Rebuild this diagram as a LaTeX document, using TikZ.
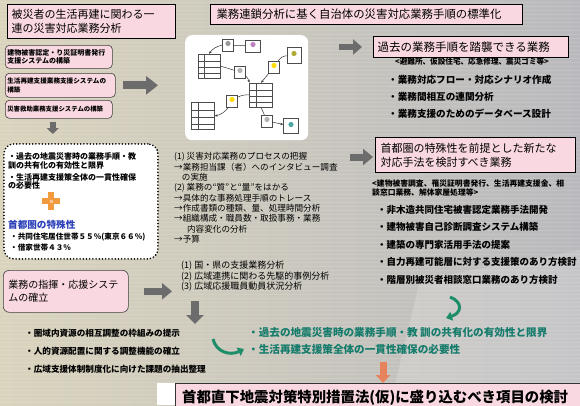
\documentclass[tikz,border=0pt]{standalone}
\usepackage{fontspec}
\setmainfont{Noto Sans CJK JP}
\usetikzlibrary{arrows.meta,calc}
\definecolor{boxpink}{HTML}{F9D8E1}
\definecolor{bgleft}{HTML}{DAD4BD}
\definecolor{bgright}{HTML}{B9B9BD}
\definecolor{arrowgray}{HTML}{6C6C6C}
\definecolor{goalteal}{HTML}{157C6C}
\definecolor{curvegreen}{HTML}{1E8E6A}
\definecolor{plusorange}{HTML}{F29A3E}
\definecolor{downorange}{HTML}{E6835C}
\definecolor{metroblue}{HTML}{2B40B8}

\begin{document}
\begin{tikzpicture}[x=1pt,y=-1pt,
  icon/.style={draw=black!70, fill=white, line width=0.4pt, minimum width=11, minimum height=12, inner sep=0pt,
    path picture={\fill[#1] ($(path picture bounding box.center)+(0,-1.5)$) circle (2.6pt);}},
  tbl/.style={draw=black!70, fill=white, line width=0.4pt, minimum width=22, minimum height=24, inner sep=0pt,
    path picture={\foreach \k in {0.3,0.55,0.8}{\draw[line width=0.3pt] ($(path picture bounding box.north west)!\k!(path picture bounding box.south west)$) -- ($(path picture bounding box.north east)!\k!(path picture bounding box.south east)$);}
      \draw[line width=0.3pt] ($(path picture bounding box.north west)!0.3!(path picture bounding box.north east)$) -- ($(path picture bounding box.south west)!0.3!(path picture bounding box.south east)$);}}]
    \tikzstyle{headbox}=[draw=black, line width=1pt, fill=boxpink, anchor=north west, inner xsep=4pt, inner ysep=0pt, align=left]
    \tikzstyle{sysbox}=[draw=black!75, line width=0.6pt, rounded corners=4pt, fill=boxpink, anchor=north west, inner xsep=2pt, inner ysep=0pt, align=left]
    \tikzstyle{note}=[anchor=north west, inner sep=0pt, align=left]
    \tikzstyle{grayarrow}=[line width=7pt, arrowgray, -{Triangle[length=10pt,width=16pt]}]
    \tikzstyle{greenarrow}=[line width=3pt, curvegreen, -{Triangle[length=6pt,width=9pt]}]
    \tikzstyle{netedge}=[line width=0.5pt, black!80]
    \useasboundingbox (0,0) rectangle (580,405);
    % background
    \shade[left color=bgleft, right color=bgright] (0,0) rectangle (580,405);
    \fill[white, opacity=0.18] (420,280) -- (580,250) -- (580,405) -- (390,405) -- cycle;
    \foreach \yy in {2,6,...,402}
        \draw[white, opacity=0.12, line width=0.6pt] (0,\yy) -- (580,\yy);
    % headings
    \node[headbox, minimum width=168, minimum height=34, text width=160, font=\fontsize{11}{14}\selectfont] (title) at (7,4) {被災者の生活再建に関わる一\\連の災害対応業務分析};
    \node[headbox, minimum width=312, minimum height=20, text width=300, inner xsep=6pt, font=\fontsize{11.4}{13}\selectfont] (banner) at (210,4) {業務連鎖分析に基く自治体の災害対応業務手順の標準化};
    % support systems
    \node[sysbox, minimum width=107, minimum height=23, text width=103, font=\bfseries\fontsize{7}{8.5}\selectfont] (sys1) at (5,45) {建物被害認定・り災証明書発行\\支援システムの構築};
    \node[sysbox, minimum width=110, minimum height=24, text width=106, font=\bfseries\fontsize{6.6}{8.5}\selectfont] (sys2) at (5,73) {生活再建支援業務支援システムの\\構築};
    \node[sysbox, minimum width=107, minimum height=18, text width=103, font=\bfseries\fontsize{6.4}{8}\selectfont] (sys3) at (5,100) {災害救助業務支援システムの構築};
    % business chain picture
    \node[fill=white, rounded corners=7pt, minimum width=123, minimum height=105, anchor=north west] (net) at (185,35) {};
    \node[icon=black!40] (nA) at (228,45) {};
    \node[icon=violet!50, minimum width=15] (nCloud) at (253,46) {};
    \node[tbl] (nT1) at (209,66) {};
    \node[icon=black!30] (nB) at (240,72) {};
    \node[icon=olive!70, minimum width=14, minimum height=16] (nD) at (294,55) {};
    \node[icon=yellow!80!orange] (nC) at (274,67) {};
    \node[tbl, minimum width=23] (nT2) at (261,95) {};
    \node[icon=yellow!80!orange] (nE) at (232,101) {};
    \node[tbl, minimum width=23, minimum height=27] (nT3) at (203,116) {};
    \node[icon=black!30] (nF) at (267,121) {};
    \node[icon=teal!70, minimum width=15, minimum height=15] (nG) at (291,126) {};
    \draw[netedge] (nCloud) -- (nA);
    \draw[netedge, -{Stealth[length=3pt]}] (nA.west) to[bend right=20] (nT1.north);
    \draw[netedge] (nT1.east) -- (nB);
    \draw[netedge, -{Stealth[length=3pt]}] (nB) to[bend left=15] (nT2.north west);
    \draw[netedge] (nD) to[bend right=25] (nC);
    \draw[netedge, -{Stealth[length=3pt]}] (nC) -- (nT2.north);
    \draw[netedge] (nT2.west) to[bend right=15] (nE);
    \draw[netedge, -{Stealth[length=3pt]}] (nE) to[bend left=20] (nT3.east);
    \draw[netedge] (nT2.south) -- (nF);
    \draw[netedge, -{Stealth[length=3pt]}] (nF) -- (nG);
    % right column: reusable procedures
    \node[headbox, minimum width=195, minimum height=21, text width=187, font=\fontsize{11.5}{13}\selectfont] (past) at (373,36) {過去の業務手順を踏襲できる業務};
    \node[note, font=\bfseries\fontsize{7.6}{8}\selectfont] (pastkind) at (395,58) {<避難所、仮設住宅、応急修理、震災ゴミ等>};
    \node[note, font=\bfseries\fontsize{9.6}{17}\selectfont] (pastlist) at (388,75) {・業務対応フロー・対応シナリオ作成\\・業務間相互の連関分析\\・業務支援のためのデータベース設計};
    % right column: new methods
    \node[headbox, minimum width=200, minimum height=35, text width=190, font=\fontsize{11}{14}\selectfont] (newbox) at (375,137) {首都圏の特殊性を前提とした新たな\\対応手法を検討すべき業務};
    \node[note, font=\bfseries\fontsize{7.8}{9}\selectfont] (newkind) at (372,179.5) {<建物被害調査、罹災証明書発行、生活再建支援金、相\\談窓口業務、解体家屋処理等>};
    \node[note, font=\bfseries\fontsize{9.5}{17.5}\selectfont] (newlist) at (377,205) {・非木造共同住宅被害認定業務手法開発\\・建物被害自己診断調査システム構築\\・建築の専門家活用手法の提案\\・自力再建可能層に対する支援策のあり方検討\\・階層別被災者相談窓口業務のあり方検討};
    % lessons
    \node[draw, line width=1.8pt, dash pattern=on 0pt off 3.2pt, line cap=round, rounded corners=10pt, fill=white, minimum width=154, minimum height=115, anchor=north west] (lessons) at (3,143) {};
    \node[note, font=\bfseries\fontsize{8}{8.5}\selectfont] (les1) at (8,152.5) {・過去の地震災害時の業務手順・教\\訓の共有化の有効性と限界};
    \node[note, font=\bfseries\fontsize{8}{8}\selectfont] (les2) at (8,173.5) {・生活再建支援策全体の一貫性確保\\の必要性};
    \fill[plusorange] (42,198) rectangle (60,204);
    \fill[plusorange] (48,192) rectangle (54,210);
    \fill[white, opacity=0.45] (49.5,199.5) rectangle (52.5,202.5);
    \node[note, text=metroblue, font=\bfseries\fontsize{9.6}{11}\selectfont] (metro) at (8,219.5) {首都圏の特殊性};
    \node[note, font=\bfseries\fontsize{7.6}{11}\selectfont] (metrolist) at (10,232.5) {・共同住宅居住世帯５５％(東京６６％)\\・借家世帯４３％};
    % process analysis
    \node[note, font=\fontsize{8.6}{10.3}\selectfont] (proc) at (174,152.5) {(1) 災害対応業務のプロセスの把握\\→業務担当課（者）へのインタビュー調査\\\hspace{0.9em}の実施\\(2) 業務の“質”と“量”をはかる\\→具体的な事務処理手順のトレース\\→作成書類の種類、量、処理時間分析\\→組織構成・職員数・取扱事務・業務\\\hspace{1.5em}内容変化の分析\\→予算};
    % command system
    \node[draw=black!75, line width=0.6pt, rounded corners=6pt, fill=boxpink, minimum width=125, minimum height=42, text width=115, anchor=north west, align=left, font=\fontsize{10}{13}\selectfont] (cmd) at (3,270) {業務の指揮・応援システ\\ムの確立};
    \node[note, font=\fontsize{9}{10.5}\selectfont] (wide) at (181,261) {(1) 国・県の支援業務分析\\(2) 広域連携に関わる先駆的事例分析\\(3) 広域応援職員動員状況分析};
    \node[note, font=\bfseries\fontsize{8.6}{18}\selectfont] (regional) at (25,328.5) {・圏域内資源の相互調整の枠組みの提示\\・人的資源配置に関する調整機能の確立\\・広域支援体制制度化に向けた課題の抽出整理};
    \node[note, text=goalteal, font=\bfseries\fontsize{10.6}{17}\selectfont] (goal) at (248,327.5) {・過去の地震災害時の業務手順・教 訓の共有化の有効性と限界\\・生活再建支援策全体の一貫性確保の必要性};
    % law
    \fill[white] (157,383) rectangle (580,405);
    \node[draw=black!80, line width=1pt, fill=boxpink, minimum width=410, minimum height=28, anchor=north west] (law) at (175,383) {};
    \node[note, font=\bfseries\fontsize{14.4}{16}\selectfont] (lawtext) at (182,389.5) {首都直下地震対策特別措置法(仮)に盛り込むべき項目の検討};
    % arrows
    \draw[grayarrow, line width=8pt, -{Triangle[length=12pt,width=18pt]}, shorten <=7pt, shorten >=27pt] (sys2.east) -- (sys2.east -| net.west);
    \draw[grayarrow, line width=6pt, -{Triangle[length=6pt,width=12pt]}, shorten <=3pt, shorten >=9pt] ([xshift=-6pt]sys3.south) -- ([xshift=-6pt]sys3.south |- lessons.north);
    \draw[grayarrow, line width=6pt, -{Triangle[length=9pt,width=15pt]}, shorten <=31pt, shorten >=11pt] (net.east |- past.west) -- (past.west);
    \coordinate (procR) at (350,157);
    \draw[grayarrow, shorten >=2pt] (procR) -- (procR -| newbox.west);
    \draw[grayarrow, shorten <=15pt, shorten >=9pt] (cmd.east) -- (cmd.east -| wide.west);
    \coordinate (wideDown) at (195,301);
    \coordinate (regionalTop) at (195,324);
    \draw[grayarrow, line width=8pt, -{Triangle[length=9pt,width=17pt]}] (wideDown) -- (regionalTop);
    \coordinate (goalDown) at (383,362);
    \draw[downorange, line width=7pt, -{Triangle[length=8pt,width=14pt]}] (goalDown) -- (goalDown |- law.north);
    \coordinate (rcurveS) at (450,297);
    \coordinate (rcurveE) at (446,318);
    \draw[greenarrow] (rcurveS) .. controls (463,302) and (462,313) .. (rcurveE);
    \coordinate (lcurveS) at (213,339);
    \coordinate (lcurveE) at (244,349);
    \draw[greenarrow] (lcurveS) .. controls (216,352) and (230,356) .. (lcurveE);
\end{tikzpicture}
\end{document}
